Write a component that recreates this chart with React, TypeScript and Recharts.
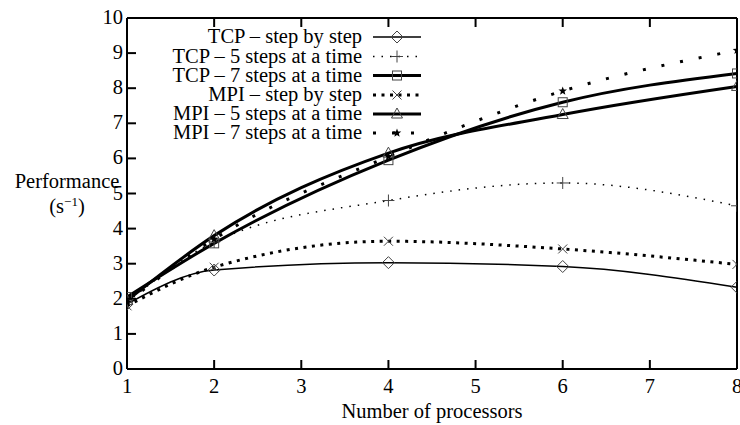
import React from 'react';
import { LineChart, Line, XAxis, YAxis, Legend } from 'recharts';

const procs = [1, 2, 4, 6, 8];
const tcpStep = [1.85, 2.82, 3.03, 2.92, 2.33];
const tcp5 = [1.9, 3.62, 4.8, 5.3, 4.65];
const tcp7 = [2.05, 3.58, 5.95, 7.6, 8.42];
const mpiStep = [1.8, 2.9, 3.64, 3.42, 2.98];
const mpi5 = [1.95, 3.8, 6.15, 7.25, 8.05];
const mpi7 = [1.9, 3.7, 6.05, 7.92, 9.08];

const xTicks = [1, 2, 3, 4, 5, 6, 7, 8];
const yTicks = [0, 1, 2, 3, 4, 5, 6, 7, 8, 9, 10];

const FONT = '"Liberation Serif", serif';
const FS = 20.5;
const MARK = '#444';

const series = [
  { key: 'tcpStep', name: 'TCP \u2013 step by step', values: tcpStep, width: 1.5, dash: undefined, shape: 'diamond' },
  { key: 'tcp5', name: 'TCP \u2013 5 steps at a time', values: tcp5, width: 1.5, dash: '1.5 7', shape: 'plus' },
  { key: 'tcp7', name: 'TCP \u2013 7 steps at a time', values: tcp7, width: 3, dash: undefined, shape: 'square' },
  { key: 'mpiStep', name: 'MPI \u2013 step by step', values: mpiStep, width: 3, dash: '3 5.5', shape: 'cross' },
  { key: 'mpi5', name: 'MPI \u2013 5 steps at a time', values: mpi5, width: 3, dash: undefined, shape: 'triangle' },
  { key: 'mpi7', name: 'MPI \u2013 7 steps at a time', values: mpi7, width: 3, dash: '3 16', shape: 'star' },
];

const data = procs.map((p, i) => {
  const row: any = { p };
  series.forEach((s) => { row[s.key] = s.values[i]; });
  return row;
});

function Marker({ shape, cx, cy }: { shape: string; cx: number; cy: number }) {
  if (cx == null || cy == null) return null;
  const st = { stroke: MARK, strokeWidth: 1, fill: 'none' };
  switch (shape) {
    case 'diamond':
      return <polygon points={`${cx - 6},${cy} ${cx},${cy - 6} ${cx + 6},${cy} ${cx},${cy + 6}`} {...st} />;
    case 'plus':
      return <path d={`M${cx - 6},${cy}H${cx + 6}M${cx},${cy - 6}V${cy + 6}`} {...st} />;
    case 'square':
      return <rect x={cx - 4.5} y={cy - 4.5} width={9} height={9} {...st} />;
    case 'cross':
      return <path d={`M${cx - 4.5},${cy - 4.5}L${cx + 4.5},${cy + 4.5}M${cx - 4.5},${cy + 4.5}L${cx + 4.5},${cy - 4.5}`} {...st} />;
    case 'triangle':
      return <polygon points={`${cx - 5.5},${cy + 4} ${cx},${cy - 6} ${cx + 5.5},${cy + 4}`} {...st} />;
    case 'star': {
      const pts: string[] = [];
      for (let i = 0; i < 10; i++) {
        const r = i % 2 === 0 ? 4.5 : 1.9;
        const a = -Math.PI / 2 + (i * Math.PI) / 5;
        pts.push(`${cx + r * Math.cos(a)},${cy + r * Math.sin(a)}`);
      }
      return <polygon points={pts.join(' ')} fill="#000" stroke="none" />;
    }
    default:
      return null;
  }
}

const BottomTick = (props: any) => {
  const { x, y, payload } = props;
  return (
    <g>
      <line x1={x} y1={y} x2={x} y2={y - 9} stroke="#000" strokeWidth={2} />
      <text x={x} y={y + 24} textAnchor="middle" fontSize={FS} fontFamily={FONT} fill="#000">{payload.value}</text>
    </g>
  );
};

const TopTick = (props: any) => {
  const { x, y } = props;
  return <line x1={x} y1={y} x2={x} y2={y + 9} stroke="#000" strokeWidth={2} />;
};

const LeftTick = (props: any) => {
  const { x, y, payload } = props;
  return (
    <g>
      <line x1={x} y1={y} x2={x + 9} y2={y} stroke="#000" strokeWidth={2} />
      <text x={x - 4} y={y + 6} textAnchor="end" fontSize={FS} fontFamily={FONT} fill="#000">{payload.value}</text>
    </g>
  );
};

const RightTick = (props: any) => {
  const { x, y } = props;
  return <line x1={x} y1={y} x2={x - 9} y2={y} stroke="#000" strokeWidth={2} />;
};

const legendRows = [37, 56.5, 75.5, 95, 114, 133];

const LegendBox = () => (
  <svg width={740} height={425} style={{ display: 'block' }}>
    {series.map((s, i) => {
      const y = legendRows[i];
      return (
        <g key={s.key}>
          <text x={362} y={y + 6} textAnchor="end" fontSize={FS} fontFamily={FONT} fill="#000">{s.name}</text>
          <line x1={373} y1={y} x2={421} y2={y} stroke="#000" strokeWidth={s.width} strokeDasharray={s.dash} />
          <Marker shape={s.shape} cx={397} cy={y} />
        </g>
      );
    })}
  </svg>
);

const axisStyle = { stroke: '#000', strokeWidth: 2 };

export default function App() {
  return (
    <div style={{ position: 'absolute', left: 0, top: 0, width: 740, height: 425, background: '#fff' }}>
      <LineChart width={740} height={425} data={data} margin={{ top: 17, right: 2, left: 126, bottom: 55 }}>
        <XAxis dataKey="p" type="number" domain={[1, 8]} ticks={xTicks} height={1} tickSize={0} tickMargin={0}
          tick={BottomTick} tickLine={false} axisLine={axisStyle} allowDataOverflow interval={0} />
        <XAxis xAxisId="top" dataKey="p" type="number" orientation="top" domain={[1, 8]} ticks={xTicks} height={1}
          tickSize={0} tickMargin={0} tick={TopTick} tickLine={false} axisLine={axisStyle} interval={0} />
        <YAxis type="number" domain={[0, 10]} ticks={yTicks} width={1} tickSize={0} tickMargin={0}
          tick={LeftTick} tickLine={false} axisLine={axisStyle} allowDataOverflow interval={0} />
        <YAxis yAxisId="right" type="number" orientation="right" domain={[0, 10]} ticks={yTicks} width={1}
          tickSize={0} tickMargin={0} tick={RightTick} tickLine={false} axisLine={axisStyle} interval={0} />
        <Legend layout="vertical" align="center" verticalAlign="middle" content={LegendBox}
          wrapperStyle={{ position: 'absolute', left: 0, top: 0, width: 740, height: 425, pointerEvents: 'none' }} />
        {series.map((s) => (
          <Line key={s.key} dataKey={s.key} name={s.name} type="monotone" stroke="#000" strokeWidth={s.width}
            strokeDasharray={s.dash} isAnimationActive={false} legendType="none"
            dot={(p: any) => <Marker key={`${s.key}-${p.index}`} shape={s.shape} cx={p.cx} cy={p.cy} />}
            activeDot={false} />
        ))}
        <text x={67} y={188} textAnchor="middle" fontSize={FS} fontFamily={FONT} fill="#000">Performance</text>
        <text x={67} y={213} textAnchor="middle" fontSize={FS} fontFamily={FONT} fill="#000">
          (s<tspan fontSize={13} dy={-7}>{'\u22121'}</tspan><tspan dy={7}>)</tspan>
        </text>
        <text x={432} y={418} textAnchor="middle" fontSize={FS} fontFamily={FONT} fill="#000">Number of processors</text>
      </LineChart>
    </div>
  );
}
